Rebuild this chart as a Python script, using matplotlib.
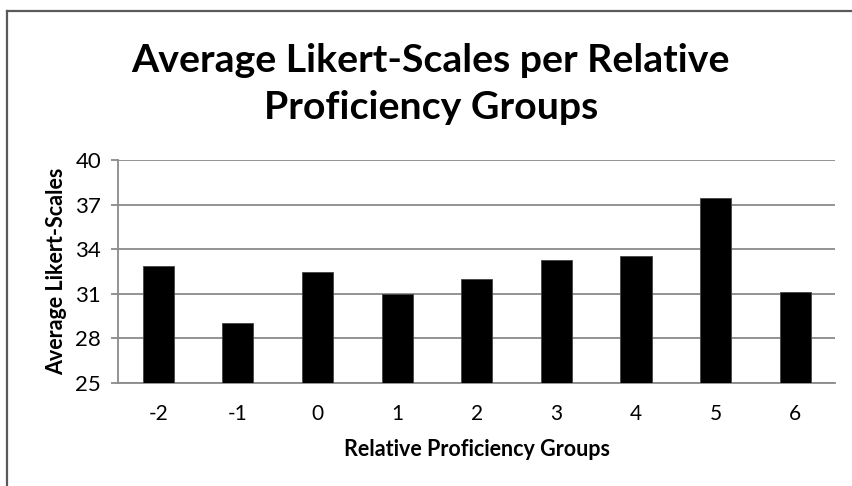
import matplotlib
matplotlib.use("Agg")
import matplotlib.pyplot as plt

# ── Data ───────────────────────────────────────────────────────
groups = ["-2", "-1", "0", "1", "2", "3", "4", "5", "6"]
avg_likert = [32.83, 29.0, 32.46, 30.96, 31.97, 33.25, 33.54, 37.44, 31.12]
y_ticks = [25, 28, 31, 34, 37, 40]

C_GRID = "#8a8a8a"
C_FRAME = "#5a5a5a"

plt.rcParams.update({
    "font.family": ["Lato", "DejaVu Sans"],
})

fig = plt.figure(figsize=(8.53, 4.86), dpi=100)
ax = fig.add_axes([0.1387, 0.2126, 0.979 - 0.1387, 0.6708 - 0.2126])

x = range(len(groups))
ax.bar(x, avg_likert, width=0.39, color="black", edgecolor="#444444",
       linewidth=0.6, zorder=3)

ax.set_xlim(-0.5, len(groups) - 0.5)
ax.set_ylim(y_ticks[0], y_ticks[-1])
ax.set_yticks(y_ticks)
ax.set_xticks(list(x))
ax.set_xticklabels(groups)

ax.yaxis.grid(True, color=C_GRID, linewidth=1.3, zorder=0)
ax.set_axisbelow(True)
for side in ("top", "right"):
    ax.spines[side].set_visible(False)
for side in ("left", "bottom"):
    ax.spines[side].set_color(C_GRID)
    ax.spines[side].set_linewidth(1.3)

ax.tick_params(axis="y", length=5.4, width=1.3, color=C_GRID,
               labelsize=16, pad=7)
ax.tick_params(axis="x", length=0, labelsize=15, pad=15.5)

ax.set_xlabel("Relative Proficiency Groups", fontsize=15.5,
              fontweight="bold", labelpad=11)
ax.set_ylabel("Average Likert-Scales", fontsize=15.5,
              fontweight="bold", labelpad=6)

fig.text(0.505, 0.9115, "Average Likert-Scales per Relative\nProficiency Groups",
         ha="center", va="top", fontsize=28.3, fontweight="bold",
         linespacing=1.4)

# chart frame (only top and left edges remain in the cropped image)
fig.add_artist(plt.Line2D([0.008, 0.008], [0.0, 0.978], color=C_FRAME,
                          linewidth=1.6, transform=fig.transFigure))
fig.add_artist(plt.Line2D([0.008, 1.0], [0.978, 0.978], color=C_FRAME,
                          linewidth=1.6, transform=fig.transFigure))

fig.savefig("out.png", dpi=100, facecolor="white")
